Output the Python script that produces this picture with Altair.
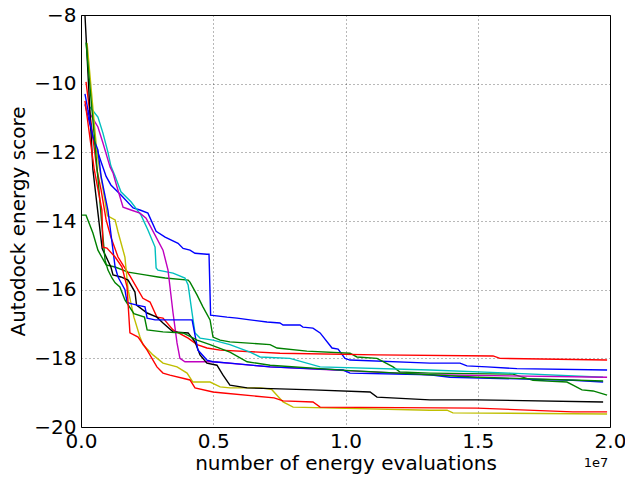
import altair as alt
import pandas as pd

# x in units of 1e7 energy evaluations, y = Autodock energy score
blue1_x = [0.015, 0.05, 0.095, 0.113, 0.151, 0.197, 0.223, 0.253, 0.284, 0.318, 0.367, 0.386, 0.412, 0.431, 0.476, 0.484, 0.49, 0.552, 0.59, 0.639, 0.703, 0.752, 0.764, 0.828, 0.839, 0.877, 0.904, 0.949, 0.972, 0.998, 1.017, 1.319, 1.433, 1.459, 1.535, 1.648, 1.989]
blue1_y = [-10.6, -11.7, -12.7, -12.95, -13.24, -13.62, -13.68, -13.77, -14.3, -14.47, -14.65, -14.8, -14.85, -14.94, -14.97, -14.97, -16.74, -16.8, -16.83, -16.88, -16.94, -16.97, -17.03, -17.03, -17.09, -17.12, -17.26, -17.7, -17.73, -18.0, -18.05, -18.14, -18.14, -18.22, -18.25, -18.3, -18.34]

green1_x = [0.004, 0.019, 0.045, 0.064, 0.095, 0.129, 0.178, 0.242, 0.291, 0.318, 0.405, 0.412, 0.439, 0.461, 0.488, 0.499, 0.526, 0.563, 0.715, 0.741, 0.854, 1.017, 1.043, 1.119, 1.18, 1.206, 1.319, 1.633, 1.709, 1.837, 1.86, 1.894, 1.936, 1.989]
green1_y = [-13.83, -13.83, -14.35, -14.85, -15.28, -15.34, -15.49, -15.57, -15.63, -15.66, -15.72, -15.78, -16.16, -16.5, -16.88, -17.38, -17.47, -17.52, -17.6, -17.7, -17.79, -17.85, -17.96, -18.0, -18.25, -18.4, -18.43, -18.46, -18.64, -18.69, -18.78, -18.92, -18.95, -19.07]

red1_x = [0.019, 0.06, 0.076, 0.095, 0.113, 0.14, 0.16, 0.185, 0.234, 0.261, 0.287, 0.31, 0.348, 0.405, 0.439, 0.476, 0.526, 0.752, 1.119, 1.558, 1.584, 1.989]
red1_y = [-9.95, -12.5, -13.1, -13.97, -14.47, -15.05, -15.3, -15.6, -16.25, -16.36, -16.8, -16.83, -17.17, -17.41, -17.6, -17.7, -17.76, -17.85, -17.9, -17.93, -18.0, -18.05]

cyan_x = [0.034, 0.064, 0.083, 0.102, 0.113, 0.129, 0.151, 0.189, 0.227, 0.253, 0.28, 0.284, 0.291, 0.348, 0.393, 0.405, 0.42, 0.431, 0.45, 0.499, 0.563, 0.639, 0.677, 0.79, 0.904, 1.319, 1.622, 1.974]
cyan_y = [-10.68, -10.97, -11.44, -12.0, -12.4, -12.7, -13.15, -13.44, -13.83, -14.26, -14.76, -15.37, -15.43, -15.52, -15.66, -15.86, -16.68, -17.26, -17.41, -17.47, -17.6, -17.82, -17.96, -18.0, -18.25, -18.34, -18.43, -18.55]

magenta_x = [0.026, 0.064, 0.083, 0.11, 0.121, 0.132, 0.159, 0.189, 0.223, 0.246, 0.28, 0.31, 0.329, 0.348, 0.363, 0.374, 0.393, 0.499, 0.715, 1.319, 1.989]
magenta_y = [-10.77, -11.26, -11.73, -12.43, -12.6, -12.9, -13.6, -13.68, -13.77, -13.92, -14.41, -14.85, -15.43, -16.68, -17.55, -18.0, -18.1, -18.1, -18.25, -18.48, -18.55]

yellow_x = [0.023, 0.06, 0.1, 0.129, 0.14, 0.166, 0.178, 0.2, 0.223, 0.234, 0.272, 0.31, 0.363, 0.401, 0.423, 0.488, 0.526, 0.563, 0.677, 0.72, 0.764, 0.802, 1.319, 1.384, 1.406, 1.989]
yellow_y = [-8.82, -12.0, -13.85, -13.97, -14.32, -15.05, -16.0, -16.8, -17.38, -17.6, -17.9, -18.14, -18.25, -18.43, -18.69, -18.69, -18.83, -18.86, -18.86, -18.9, -19.27, -19.42, -19.51, -19.51, -19.59, -19.62]

black_x = [0.015, 0.045, 0.06, 0.08, 0.113, 0.121, 0.151, 0.178, 0.204, 0.21, 0.25, 0.287, 0.31, 0.348, 0.405, 0.431, 0.45, 0.476, 0.514, 0.537, 0.563, 0.628, 0.752, 0.877, 1.093, 1.119, 1.319, 1.497, 1.974]
black_y = [-8.0, -12.5, -13.5, -14.8, -15.34, -15.57, -15.63, -15.72, -16.07, -16.45, -16.68, -16.8, -16.97, -17.23, -17.26, -17.52, -17.9, -18.14, -18.2, -18.49, -18.78, -18.86, -18.89, -18.92, -18.98, -19.13, -19.21, -19.21, -19.27]

blue2_x = [0.015, 0.045, 0.064, 0.076, 0.102, 0.129, 0.14, 0.166, 0.174, 0.185, 0.212, 0.242, 0.25, 0.28, 0.42, 0.442, 0.476, 0.499, 0.563, 0.715, 0.991, 1.017, 1.319, 1.395, 1.86, 1.974]
blue2_y = [-10.3, -11.55, -11.93, -12.7, -13.7, -15.34, -15.63, -16.0, -16.36, -16.4, -16.45, -16.5, -16.83, -16.88, -16.88, -17.76, -18.05, -18.1, -18.14, -18.25, -18.34, -18.43, -18.48, -18.55, -18.64, -18.69]

green2_x = [0.019, 0.05, 0.083, 0.091, 0.102, 0.117, 0.129, 0.147, 0.166, 0.2, 0.24, 0.25, 0.31, 0.386, 0.439, 0.488, 0.563, 0.628, 0.715, 1.0, 1.5, 1.974]
green2_y = [-8.8, -11.5, -14.47, -15.14, -15.43, -15.66, -15.8, -15.92, -16.3, -16.7, -16.8, -17.17, -17.23, -17.26, -17.47, -17.6, -17.82, -18.1, -18.2, -18.35, -18.55, -18.66]

red2_x = [0.015, 0.05, 0.079, 0.083, 0.098, 0.129, 0.155, 0.174, 0.185, 0.216, 0.242, 0.25, 0.287, 0.31, 0.336, 0.412, 0.431, 0.499, 0.537, 0.73, 0.764, 0.877, 0.904, 1.497, 1.86, 1.989]
red2_y = [-10.5, -12.5, -13.68, -14.76, -14.79, -15.05, -15.34, -15.92, -17.26, -17.38, -17.67, -17.76, -18.25, -18.43, -18.49, -18.63, -18.86, -18.98, -19.01, -19.15, -19.24, -19.27, -19.42, -19.45, -19.56, -19.56]

series = [
    ("s01", blue1_x, blue1_y, "#0000ff"),
    ("s02", green1_x, green1_y, "#008000"),
    ("s03", red1_x, red1_y, "#ff0000"),
    ("s04", cyan_x, cyan_y, "#00bfbf"),
    ("s05", magenta_x, magenta_y, "#bf00bf"),
    ("s06", yellow_x, yellow_y, "#bfbf00"),
    ("s07", black_x, black_y, "#000000"),
    ("s08", blue2_x, blue2_y, "#0000ff"),
    ("s09", green2_x, green2_y, "#008000"),
    ("s10", red2_x, red2_y, "#ff0000"),
]

rows = []
for name, xs, ys, _ in series:
    for i, (xv, yv) in enumerate(zip(xs, ys)):
        rows.append({"run": name, "idx": i, "x": xv, "y": yv})
df = pd.DataFrame(rows)

FONT = "DejaVu Sans"

lines = alt.Chart(df).mark_line(strokeWidth=1.4, clip=True).encode(
    x=alt.X("x:Q", scale=alt.Scale(domain=[0, 2], nice=False, zero=False),
            axis=alt.Axis(values=[0, 0.5, 1.0, 1.5, 2.0], format=".1f",
                          title="number of energy evaluations",
                          labelFontSize=20, titleFontSize=20, labelPadding=4,
                          titlePadding=2, labelFlush=False, labelOverlap=False)),
    y=alt.Y("y:Q", scale=alt.Scale(domain=[-20, -8], nice=False, zero=False),
            axis=alt.Axis(values=[-20, -18, -16, -14, -12, -10, -8],
                          labelExpr="datum.value < 0 ? '\u2212' + abs(datum.value) : '' + datum.value",
                          title="Autodock energy score",
                          labelFontSize=20, titleFontSize=20, labelPadding=5,
                          titlePadding=5, labelFlush=False, labelOverlap=False)),
    color=alt.Color("run:N", scale=alt.Scale(domain=[s[0] for s in series],
                                            range=[s[3] for s in series]),
                    legend=None),
    order="idx:Q",
)

exp_label = alt.Chart(pd.DataFrame({"t": ["1e7"]})).mark_text(
    fontSize=13, font=FONT, color="black", align="center", baseline="middle"
).encode(text="t:N", x=alt.value(515), y=alt.value(448))

chart = alt.layer(lines, exp_label).properties(
    width=529, height=412,
    padding={"left": 73, "top": 7, "right": 15, "bottom": 55},
    autosize=alt.AutoSizeParams(type="none"),
    background="white",
).configure_view(
    stroke="black", strokeWidth=1
).configure_axis(
    labelFont=FONT, titleFont=FONT, labelColor="black", titleColor="black",
    titleFontWeight="normal", domain=False, ticks=False,
    grid=True, gridColor="black", gridDash=[1, 3], gridOpacity=0.7, gridWidth=0.8,
)

chart.save("out.html", embed_options={"renderer": "svg", "actions": False})
